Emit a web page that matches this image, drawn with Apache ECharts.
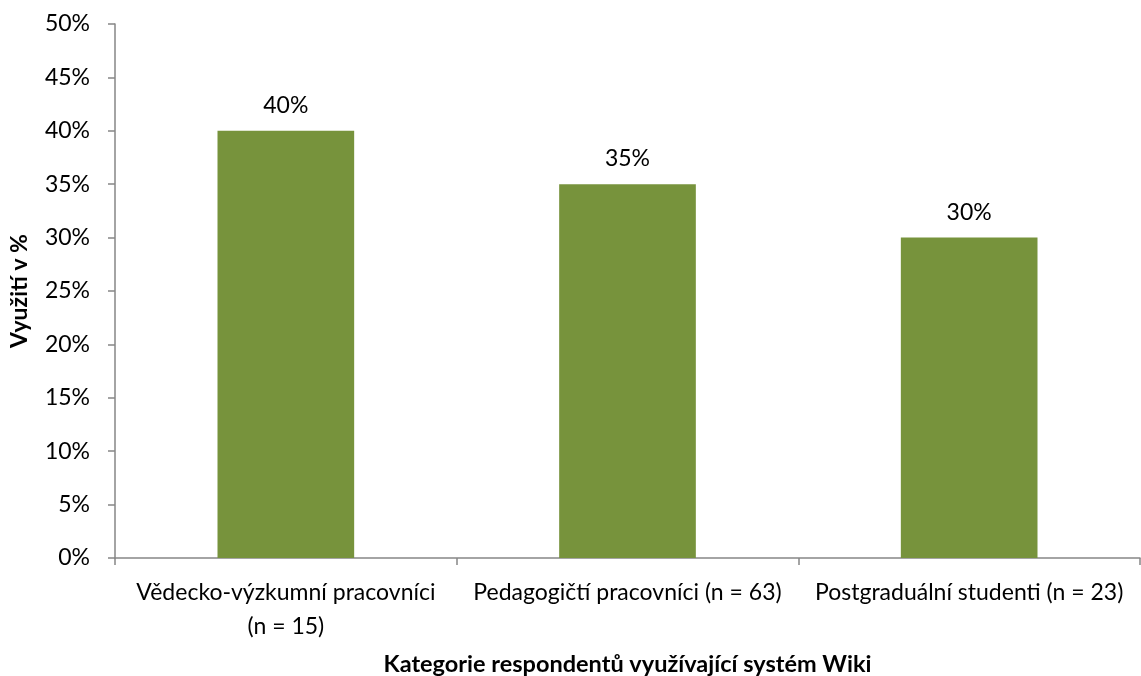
<!DOCTYPE html>
<html>
<head>
<meta charset="utf-8">
<script src="https://cdn.jsdelivr.net/npm/echarts@6/dist/echarts.min.js"></script>
<style>
  html, body { margin: 0; padding: 0; background: #fff; }
  #chart { width: 1141px; height: 676px; }
</style>
</head>
<body>
<div id="chart"></div>
<script>
// Respondent categories and the share of each using the Wiki system
const categories = [
  'Vědecko-výzkumní pracovníci\n(n = 15)',
  'Pedagogičtí pracovníci (n = 63)',
  'Postgraduální studenti (n = 23)'
];
const usage = [40, 35, 30];
const yTitle = 'Využití v %';
const xTitle = 'Kategorie respondentů využívající systém Wiki';

const FONT = 'Lato, "Open Sans", sans-serif';
const AXIS_COLOR = '#868686';

const chart = echarts.init(document.getElementById('chart'), null, { renderer: 'canvas' });
chart.setOption({
  animation: false,
  backgroundColor: '#ffffff',
  textStyle: { fontFamily: FONT, color: '#000' },
  grid: { left: 115, right: 1, top: 24, bottom: 118, containLabel: false, outerBoundsMode: 'none' },
  xAxis: {
    type: 'category',
    data: categories,
    boundaryGap: true,
    axisLine: { lineStyle: { color: AXIS_COLOR, width: 1.5 } },
    axisTick: { show: true, length: 7, alignWithLabel: false, lineStyle: { color: AXIS_COLOR, width: 1.5 } },
    axisLabel: { color: '#000', fontFamily: FONT, fontSize: 23, margin: 18, lineHeight: 34, interval: 0 },
    name: xTitle,
    nameLocation: 'middle',
    nameGap: 94,
    nameTextStyle: { color: '#000', fontFamily: FONT, fontSize: 23.5, fontWeight: 'bold' }
  },
  yAxis: {
    type: 'value',
    min: 0,
    max: 50,
    interval: 5,
    axisLine: { show: true, lineStyle: { color: AXIS_COLOR, width: 1.5 } },
    axisTick: { show: true, length: 7, lineStyle: { color: AXIS_COLOR, width: 1.5 } },
    splitLine: { show: false },
    axisLabel: { color: '#000', fontFamily: FONT, fontSize: 23, margin: 25, formatter: '{value}%' },
    name: yTitle,
    nameLocation: 'middle',
    nameGap: 84,
    nameRotate: 90,
    nameTextStyle: { color: '#000', fontFamily: FONT, fontSize: 23, fontWeight: 'bold' }
  },
  series: [{
    type: 'bar',
    data: usage,
    barWidth: '40%',
    itemStyle: { color: '#77933C' },
    label: {
      show: true,
      position: 'top',
      distance: 14,
      color: '#000',
      fontFamily: FONT,
      fontSize: 23,
      formatter: '{c}%'
    }
  }]
});
</script>
</body>
</html>
